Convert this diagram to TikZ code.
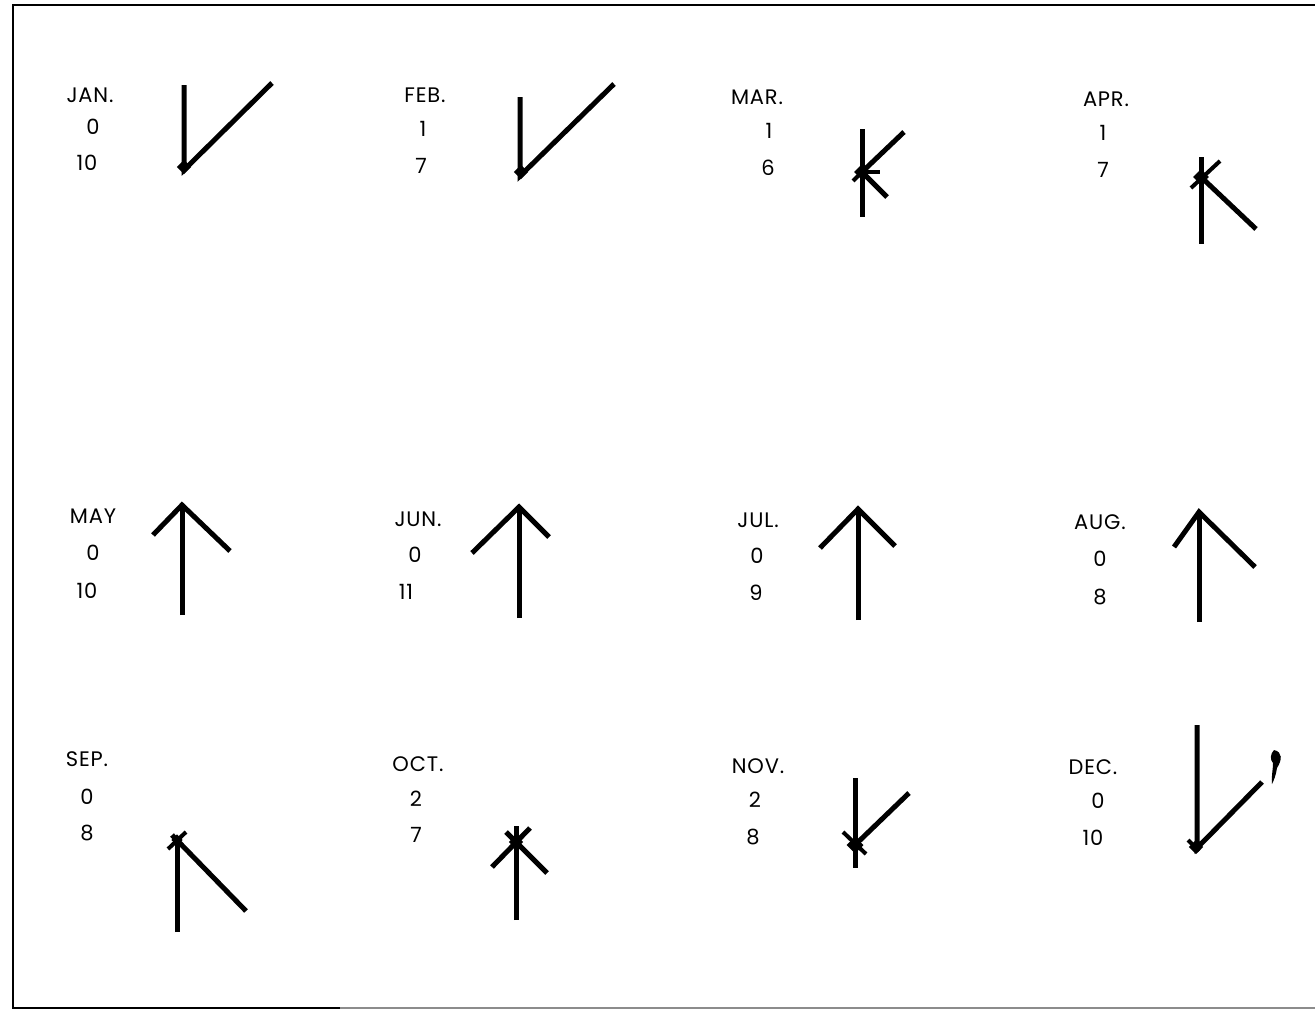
\documentclass[tikz,border=0pt]{standalone}
\usepackage{fontspec}
\setmainfont[LetterSpace=4]{Poppins}
\begin{document}
\begin{tikzpicture}[x=1pt,y=-1pt,
  lab/.style={inner sep=0pt, font=\fontsize{21}{21}\selectfont},
  glyph/.style={line width=5pt, line cap=butt, black},
  thin/.style={line width=4pt, line cap=butt, black},
  blob/.style={fill=black, inner sep=0pt, minimum size=10pt, rectangle, rotate=45},
  frame/.style={line width=1.8pt, black}]
\useasboundingbox (0,0) rectangle (1315,1010);
\fill[white] (0,0) rectangle (1315,1010);
% frame
\coordinate (tl) at (13,5);
\coordinate (tr) at (1315,5);
\coordinate (bl) at (13,1008);
\coordinate (bm) at (340,1008);
\coordinate (br) at (1315,1008);
\draw[frame] (tr) -- (tl) -- (bl) -- (bm);
\draw[line width=1.5pt, black!45] (bm) -- (br);

% ---------- labels ----------
\node[lab] (jan)  at (90,95)   {JAN.};
\node[lab] (jan1) at (93,127)  {0};
\node[lab] (jan2) at (87,163)  {10};
\node[lab] (feb)  at (425,95)  {FEB.};
\node[lab] (feb1) at (423,129) {1};
\node[lab] (feb2) at (421,166) {7};
\node[lab] (mar)  at (757,97)  {MAR.};
\node[lab] (mar1) at (769,131) {1};
\node[lab] (mar2) at (768,168) {6};
\node[lab] (apr)  at (1106,99) {APR.};
\node[lab] (apr1) at (1103,133){1};
\node[lab] (apr2) at (1103,170){7};

\node[lab] (may)  at (93,516)  {MAY};
\node[lab] (may1) at (93,553)  {0};
\node[lab] (may2) at (87,591)  {10};
\node[lab] (jun)  at (418,519) {JUN.};
\node[lab] (jun1) at (415,555) {0};
\node[lab] (jun2) at (406,592) {11};
\node[lab] (jul)  at (758,520) {JUL.};
\node[lab] (jul1) at (757,556) {0};
\node[lab] (jul2) at (756,593) {9};
\node[lab] (aug)  at (1100,522){AUG.};
\node[lab] (aug1) at (1100,559){0};
\node[lab] (aug2) at (1100,597){8};

\node[lab] (sep)  at (87,759)  {SEP.};
\node[lab] (sep1) at (87,797)  {0};
\node[lab] (sep2) at (87,833)  {8};
\node[lab] (oct)  at (418,764) {OCT.};
\node[lab] (oct1) at (416,799) {2};
\node[lab] (oct2) at (416,835) {7};
\node[lab] (nov)  at (758,766) {NOV.};
\node[lab] (nov1) at (755,800) {2};
\node[lab] (nov2) at (753,837) {8};
\node[lab] (dec)  at (1093,767){DEC.};
\node[lab] (dec1) at (1098,801){0};
\node[lab] (dec2) at (1093,838){10};

% ---------- glyphs ----------
% JAN
\draw[glyph] (184,85) -- (184,170) -- (272,83);
\node[blob] at (184,167) {};
% FEB
\draw[glyph] (520,97) -- (520,176) -- (614,84);
\node[blob] at (521,172) {};
% MAR
\draw[glyph] (862,129) -- (862,217);
\draw[glyph] (862,172) -- (904,132);
\draw[glyph] (862,172) -- (887,197);
\draw[thin] (862,172) -- (880,172);
\draw[thin] (862,172) -- (853,181);
\node[blob, minimum size=11pt] at (862,172) {};
% APR
\draw[glyph] (1201,157) -- (1201,244);
\draw[thin] (1191,188) -- (1220,161);
\draw[glyph] (1201,177) -- (1256,229);
\node[blob, minimum size=11pt] at (1201,177) {};

% MAY
\draw[glyph] (182,615) -- (182,505);
\draw[glyph] (153,535) -- (182,505) -- (230,551);
% JUN
\draw[glyph] (519,618) -- (519,507);
\draw[glyph] (472,553) -- (519,507) -- (549,537);
% JUL
\draw[glyph] (858,620) -- (858,509);
\draw[glyph] (820,548) -- (858,509) -- (895,546);
% AUG
\draw[glyph] (1199,622) -- (1199,512);
\draw[glyph] (1174,547) -- (1199,512) -- (1255,567);

% SEP
\draw[glyph] (177,932) -- (177,840);
\draw[glyph] (172,835) -- (246,911);
\draw[thin] (168,849) -- (186,832);
\node[blob, minimum size=8pt] at (177,840) {};
% OCT
\draw[glyph] (516,920) -- (516,826);
\draw[glyph] (506,832) -- (547,873);
\draw[glyph] (530,828) -- (492,867);
\node[blob, minimum size=10pt] at (516,842) {};
% NOV
\draw[glyph] (855,778) -- (855,868);
\draw[glyph] (855,845) -- (909,793);
\draw[thin] (843,832) -- (866,854);
\node[blob, minimum size=12pt] at (855,845) {};
% DEC
\draw[glyph] (1197,725) -- (1197,848) -- (1262,782);
\draw[thin] (1188,840) -- (1199,851);
\node[blob, minimum size=10pt] at (1196,847) {};
% stray mark
\fill[black] (1274,750) .. controls (1283,752) and (1282,760) .. (1277,768)
  .. controls (1276,775) and (1274,780) .. (1272,784)
  .. controls (1271,778) and (1273,770) .. (1273,763)
  .. controls (1270,760) and (1270,754) .. (1274,750) -- cycle;
\end{tikzpicture}
\end{document}
